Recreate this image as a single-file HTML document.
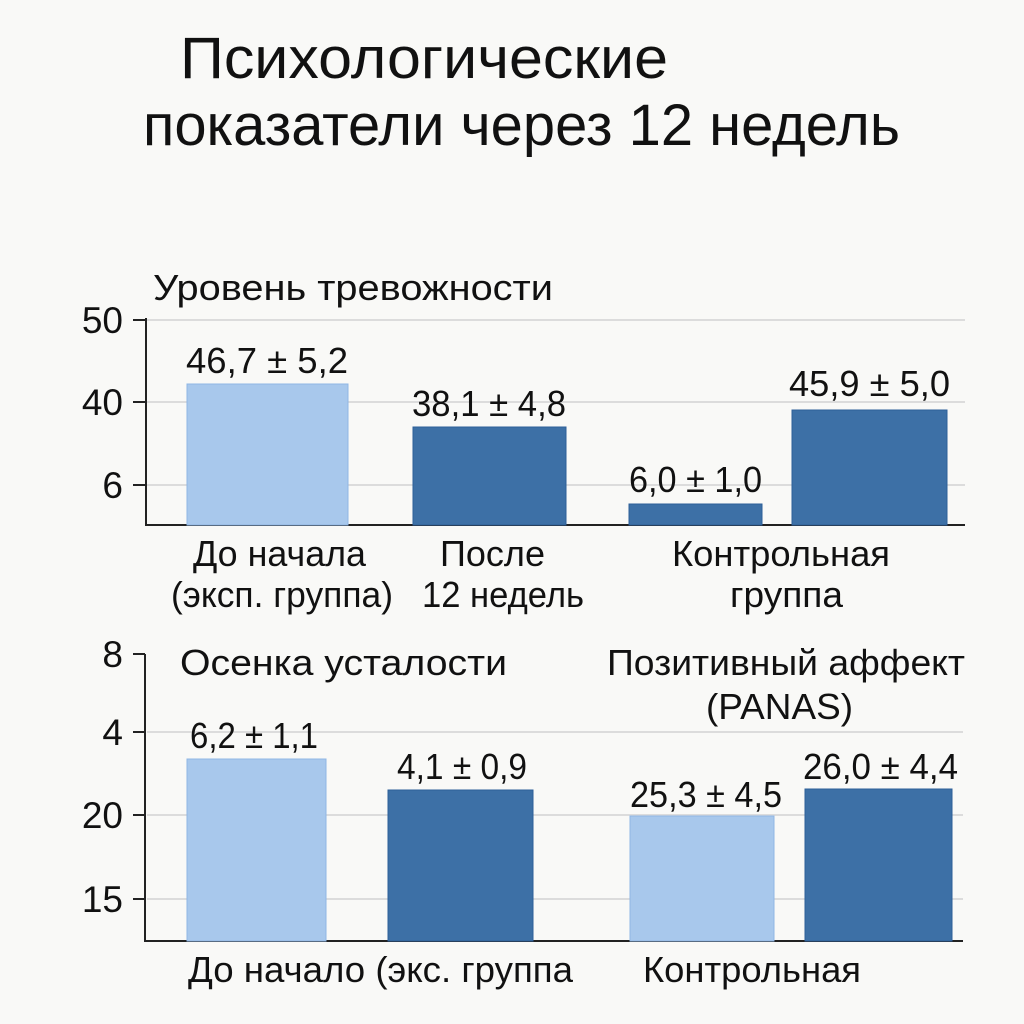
<!DOCTYPE html>
<html><head><meta charset="utf-8"><style>
html,body{margin:0;padding:0;background:#f9f9f7;}
svg{display:block;font-family:"Liberation Sans","DejaVu Sans",sans-serif;}
</style></head><body>
<svg width="1024" height="1024" viewBox="0 0 1024 1024" xmlns="http://www.w3.org/2000/svg">
<rect width="1024" height="1024" fill="#f9f9f7"/>
<g fill="#111" lengthAdjust="spacingAndGlyphs">
<text x="180" y="78" font-size="58" textLength="488" lengthAdjust="spacingAndGlyphs">Психологические</text>
<text x="143" y="145" font-size="58" textLength="757" lengthAdjust="spacingAndGlyphs">показатели через 12 недель</text>
</g>

<!-- top chart -->
<text x="153" y="300" font-size="36" fill="#111" textLength="400" lengthAdjust="spacingAndGlyphs">Уровень тревожности</text>
<g stroke="#dcdcdc" stroke-width="2">
<line x1="147" y1="320" x2="965" y2="320"/>
<line x1="147" y1="402" x2="965" y2="402"/>
<line x1="147" y1="485" x2="965" y2="485"/>
</g>
<g stroke="#222" stroke-width="2">
<line x1="146" y1="318" x2="146" y2="525"/>
<line x1="145" y1="525" x2="965" y2="525"/>
<line x1="133" y1="320" x2="146" y2="320"/>
<line x1="133" y1="402" x2="146" y2="402"/>
<line x1="133" y1="485" x2="146" y2="485"/>
</g>
<g font-size="37" fill="#111" text-anchor="end">
<text x="123" y="333">50</text>
<text x="123" y="415">40</text>
<text x="123" y="498">6</text>
</g>
<rect x="187" y="384" width="161" height="141" fill="#a8c8ec" stroke="#8fb6e4"/>
<rect x="413" y="427" width="153" height="98" fill="#3d70a6" stroke="#2d5f98"/>
<rect x="629" y="504" width="133" height="21" fill="#3d70a6" stroke="#2d5f98"/>
<rect x="792" y="410" width="155" height="115" fill="#3d70a6" stroke="#2d5f98"/>
<g font-size="36" fill="#111">
<text x="186" y="373" textLength="162" lengthAdjust="spacingAndGlyphs">46,7 ± 5,2</text>
<text x="412" y="416" textLength="154" lengthAdjust="spacingAndGlyphs">38,1 ± 4,8</text>
<text x="629" y="492" textLength="133" lengthAdjust="spacingAndGlyphs">6,0 ± 1,0</text>
<text x="789" y="396" textLength="161" lengthAdjust="spacingAndGlyphs">45,9 ± 5,0</text>
<text x="193" y="566" textLength="173" lengthAdjust="spacingAndGlyphs">До начала</text>
<text x="171" y="607" textLength="222" lengthAdjust="spacingAndGlyphs">(эксп. группа)</text>
<text x="440" y="566" textLength="105" lengthAdjust="spacingAndGlyphs">После</text>
<text x="422" y="607" textLength="162" lengthAdjust="spacingAndGlyphs">12 недель</text>
<text x="672" y="566" textLength="218" lengthAdjust="spacingAndGlyphs">Контрольная</text>
<text x="730" y="607" textLength="113" lengthAdjust="spacingAndGlyphs">группа</text>
</g>

<!-- bottom chart -->
<g stroke="#dcdcdc" stroke-width="2">
<line x1="147" y1="732" x2="963" y2="732"/>
<line x1="147" y1="815" x2="963" y2="815"/>
<line x1="147" y1="899" x2="963" y2="899"/>
</g>
<g stroke="#222" stroke-width="2">
<line x1="145" y1="654" x2="145" y2="941"/>
<line x1="144" y1="941" x2="963" y2="941"/>
<line x1="133" y1="654" x2="145" y2="654"/>
<line x1="133" y1="732" x2="145" y2="732"/>
<line x1="133" y1="815" x2="145" y2="815"/>
<line x1="133" y1="899" x2="145" y2="899"/>
</g>
<g font-size="37" fill="#111" text-anchor="end">
<text x="123" y="667">8</text>
<text x="123" y="745">4</text>
<text x="123" y="828">20</text>
<text x="123" y="912">15</text>
</g>
<g font-size="36" fill="#111">
<text x="180" y="675" textLength="327" lengthAdjust="spacingAndGlyphs">Осенка усталости</text>
<text x="607" y="675" textLength="358" lengthAdjust="spacingAndGlyphs">Позитивный аффект</text>
<text x="706" y="719" textLength="147" lengthAdjust="spacingAndGlyphs">(PANAS)</text>
</g>
<rect x="187" y="759" width="139" height="182" fill="#a8c8ec" stroke="#8fb6e4"/>
<rect x="388" y="790" width="145" height="151" fill="#3d70a6" stroke="#2d5f98"/>
<rect x="630" y="816" width="144" height="125" fill="#a8c8ec" stroke="#8fb6e4"/>
<rect x="805" y="789" width="147" height="152" fill="#3d70a6" stroke="#2d5f98"/>
<g font-size="36" fill="#111">
<text x="190" y="748" textLength="128" lengthAdjust="spacingAndGlyphs">6,2 ± 1,1</text>
<text x="397" y="779" textLength="130" lengthAdjust="spacingAndGlyphs">4,1 ± 0,9</text>
<text x="630" y="807" textLength="152" lengthAdjust="spacingAndGlyphs">25,3 ± 4,5</text>
<text x="803" y="779" textLength="155" lengthAdjust="spacingAndGlyphs">26,0 ± 4,4</text>
<text x="188" y="982" textLength="385" lengthAdjust="spacingAndGlyphs">До начало (экс. группа</text>
<text x="643" y="982" textLength="218" lengthAdjust="spacingAndGlyphs">Контрольная</text>
</g>
</svg>
</body></html>
